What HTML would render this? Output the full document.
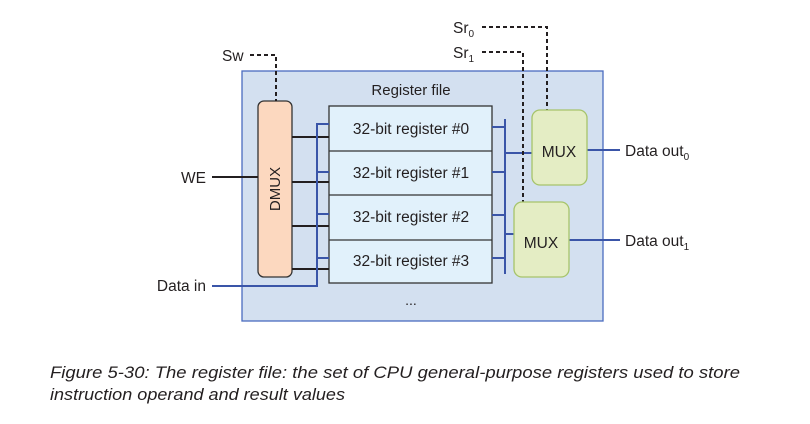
<!DOCTYPE html>
<html><head><meta charset="utf-8"><style>
html,body{margin:0;padding:0;background:#fff;}
svg{display:block;}
text{font-family:"Liberation Sans",sans-serif;fill:#231f20;}
</style></head><body>
<svg width="810" height="424" viewBox="0 0 810 424" xmlns="http://www.w3.org/2000/svg">
<rect x="242" y="71" width="361" height="250" fill="#d3e0f0" stroke="#4a6cc0" stroke-width="1.3"/>
<text x="411" y="95" font-size="15" text-anchor="middle">Register file</text>
<rect x="329" y="106" width="163" height="177" fill="#e1f1fb" stroke="#333" stroke-width="1.3"/>
<line x1="329" y1="151" x2="492" y2="151" stroke="#333" stroke-width="1.3"/>
<line x1="329" y1="195" x2="492" y2="195" stroke="#333" stroke-width="1.3"/>
<line x1="329" y1="240" x2="492" y2="240" stroke="#333" stroke-width="1.3"/>
<text x="411" y="134" font-size="15.5" text-anchor="middle">32-bit register #0</text>
<text x="411" y="178" font-size="15.5" text-anchor="middle">32-bit register #1</text>
<text x="411" y="222" font-size="15.5" text-anchor="middle">32-bit register #2</text>
<text x="411" y="266" font-size="15.5" text-anchor="middle">32-bit register #3</text>
<text x="411" y="305" font-size="14" text-anchor="middle">...</text>
<rect x="258" y="101" width="34" height="176" rx="6" fill="#fcd8bf" stroke="#333" stroke-width="1.3"/>
<text x="275" y="194" font-size="15" text-anchor="middle" transform="rotate(-90 275 189)">DMUX</text>
<g stroke="#231f20" stroke-width="2">
<line x1="292" y1="137" x2="329" y2="137"/>
<line x1="292" y1="182" x2="329" y2="182"/>
<line x1="292" y1="226" x2="329" y2="226"/>
<line x1="292" y1="269" x2="329" y2="269"/>
<line x1="212" y1="177" x2="258" y2="177"/>
</g>
<text x="206" y="183" font-size="15.5" text-anchor="end">WE</text>
<g stroke="#3a55a8" stroke-width="2" fill="none">
<polyline points="212,286 317,286 317,124 329,124"/>
<line x1="317" y1="172" x2="329" y2="172"/>
<line x1="317" y1="214" x2="329" y2="214"/>
<line x1="317" y1="258" x2="329" y2="258"/>
<line x1="492" y1="127" x2="505" y2="127"/>
<line x1="492" y1="172" x2="505" y2="172"/>
<line x1="492" y1="215" x2="505" y2="215"/>
<line x1="492" y1="258" x2="505" y2="258"/>
<line x1="505" y1="119" x2="505" y2="274"/>
<line x1="505" y1="153" x2="532" y2="153"/>
<line x1="505" y1="234" x2="514" y2="234"/>
<line x1="587" y1="150" x2="620" y2="150"/>
<line x1="569" y1="240" x2="620" y2="240"/>
</g>
<text x="206" y="291" font-size="15.5" text-anchor="end">Data in</text>
<g stroke="#231f20" stroke-width="2" fill="none" stroke-dasharray="4,3">
<polyline points="250,55 276,55 276,101"/>
<polyline points="482,27 547,27 547,110"/>
<polyline points="482,52 523,52 523,202"/>
</g>
<text x="222" y="61" font-size="15.5">Sw</text>
<text x="453" y="33" font-size="15.5">Sr<tspan font-size="10" dy="4">0</tspan></text>
<text x="453" y="58" font-size="15.5">Sr<tspan font-size="10" dy="4">1</tspan></text>
<rect x="532" y="110" width="55" height="75" rx="8" fill="#e4edc4" stroke="#a6c46a" stroke-width="1.3"/>
<text x="559" y="157" font-size="15.5" text-anchor="middle">MUX</text>
<rect x="514" y="202" width="55" height="75" rx="8" fill="#e4edc4" stroke="#a6c46a" stroke-width="1.3"/>
<text x="541" y="248" font-size="15.5" text-anchor="middle">MUX</text>
<text x="625" y="156" font-size="15.5">Data out<tspan font-size="10" dy="4">0</tspan></text>
<text x="625" y="246" font-size="15.5">Data out<tspan font-size="10" dy="4">1</tspan></text>
<text x="50" y="378" font-size="17" font-style="italic" textLength="690" lengthAdjust="spacingAndGlyphs">Figure 5-30: The register file: the set of CPU general-purpose registers used to store</text>
<text x="50" y="400" font-size="17" font-style="italic" textLength="295" lengthAdjust="spacingAndGlyphs">instruction operand and result values</text>
</svg>
</body></html>
